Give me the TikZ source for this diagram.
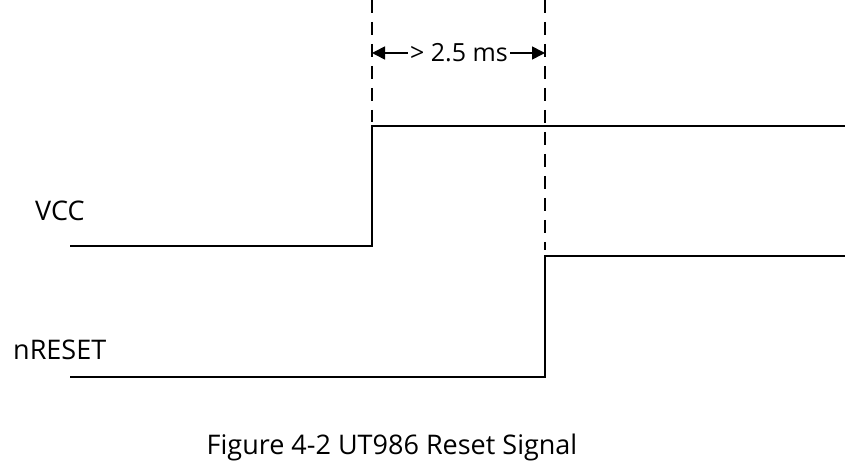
\documentclass[tikz,border=0pt]{standalone}
\usepackage{fontspec}
\setmainfont{Open Sans}
\usetikzlibrary{arrows.meta}
\begin{document}
\begin{tikzpicture}[x=1pt,y=-1pt,
  sig/.style={line width=2pt},
  guide/.style={line width=1.6pt,dash pattern=on 13pt off 9pt},
  lbl/.style={font=\fontsize{27}{30}\selectfont,anchor=west,inner sep=0},
  dim/.style={line width=1.6pt,-{Triangle[length=13pt,width=13pt]}}]
\useasboundingbox (0,0) rectangle (860,470);
\coordinate (v0) at (70,246); \coordinate (v1) at (372,246);
\coordinate (v2) at (372,126); \coordinate (v3) at (845,126);
\coordinate (r0) at (70,377); \coordinate (r1) at (545,377);
\coordinate (r2) at (545,256); \coordinate (r3) at (845,256);
\draw[sig] (v0) -- (v1) -- (v2) -- (v3);
\draw[sig] (r0) -- (r1) -- (r2) -- (r3);
\coordinate (g1) at (372,0); \coordinate (g2) at (545,0);
\coordinate (g1e) at (372,122); \coordinate (g2e) at (545,250);
\draw[guide] (g1) -- (g1e);
\draw[guide] (g2) -- (g2e);
\node[font=\fontsize{25}{28}\selectfont,inner sep=2pt] (t) at (459,53) {> 2.5 ms};
\coordinate (a1) at (372,53); \coordinate (a2) at (545,53);
\draw[dim] (t.west) -- (a1);
\draw[dim] (t.east) -- (a2);
\node[lbl] (vcc) at (35,211) {VCC};
\node[lbl] (nr) at (13,350) {nRESET};
\node[font=\fontsize{27}{30}\selectfont] (cap) at (392,447) {Figure 4-2 UT986 Reset Signal};
\end{tikzpicture}
\end{document}
